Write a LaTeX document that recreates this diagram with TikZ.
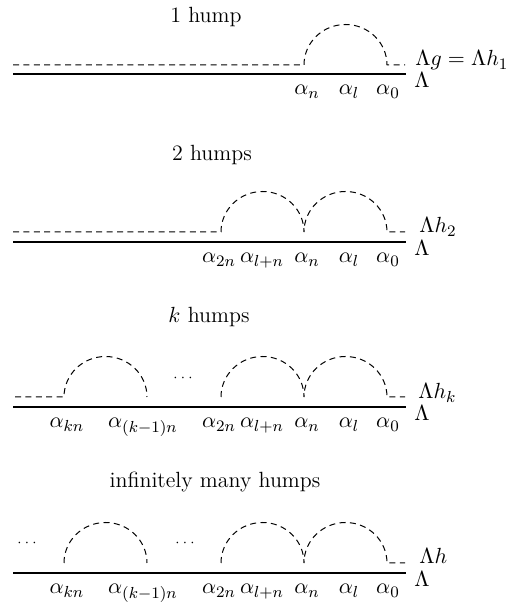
\documentclass[tikz,border=0pt]{standalone}
\usepackage{tikz}
\usetikzlibrary{positioning}
\tikzset{
  humpline/.style={line width=0.5pt,dash pattern=on 3pt off 2.2pt},
  groundline/.style={line width=0.55pt},
  lab/.style={inner sep=0pt,font=\fontsize{11}{13}\selectfont},
  headline/.style={lab,anchor=base},
  dots/.style={inner sep=0pt,font=\scriptsize}}
\newcommand{\arcup}{arc[start angle=180,end angle=0,x radius=41.5,y radius=40.5]}
\newcommand{\ground}[2]{%
  \draw[groundline] (13,#2) -- (406,#2);
  \node[lab,anchor=base west] (lam#1) at (414,#2-14) {$\Lambda$};}
\newcommand{\roots}[3]{%
  \foreach \x/\s [count=\i] in {#3}
    \node[lab,anchor=base] (#1a\i) at (\x,#2-21) {$\alpha_{\s}$};}

\begin{document}
\begin{tikzpicture}[x=0.5pt,y=0.5pt]
  \useasboundingbox (0,0) rectangle (511,606);
  % one hump
  \node[headline] (t1) at (206,583) {1 hump};
  \draw[humpline] (13,541) -- (304,541) \arcup -- (405,541);
  \node[lab,anchor=base west] (h1) at (415,540) {$\Lambda g=\Lambda h_1$};
  \ground{1}{532}
  \roots{r1}{532}{307/n,349/l,388/0}
  % two humps
  \node[headline] (t2) at (212,445) {2 humps};
  \draw[humpline] (13,374) -- (221,374) \arcup \arcup -- (405,374);
  \node[lab,anchor=base west] (h2) at (419,373) {$\Lambda h_2$};
  \ground{2}{364}
  \roots{r2}{364}{219/2n,262/l+n,307/n,349/l,388/0}
  % k humps
  \node[headline] (t3) at (209,283) {$k$ humps};
  \draw[humpline] (15,209) -- (64,209) \arcup;
  \node[dots] (d3) at (183,228) {$\cdots$};
  \draw[humpline] (221,209) \arcup \arcup -- (405,209);
  \node[lab,anchor=base west] (h3) at (418,207) {$\Lambda h_k$};
  \ground{3}{199}
  \roots{r3}{199}{67/kn,143/{(k-1)n},219/2n,262/l+n,307/n,349/l,388/0}
  % infinitely many humps
  \node[headline] (t4) at (215,118) {infinitely many humps};
  \node[dots] (d4a) at (27,63) {$\cdots$};
  \draw[humpline] (64,43) \arcup;
  \node[dots] (d4b) at (185,63) {$\cdots$};
  \draw[humpline] (221,43) \arcup \arcup -- (405,43);
  \node[lab,anchor=base west] (h4) at (419,42) {$\Lambda h$};
  \ground{4}{33}
  \roots{r4}{33}{67/kn,143/{(k-1)n},219/2n,262/l+n,307/n,349/l,388/0}
\end{tikzpicture}
\end{document}
